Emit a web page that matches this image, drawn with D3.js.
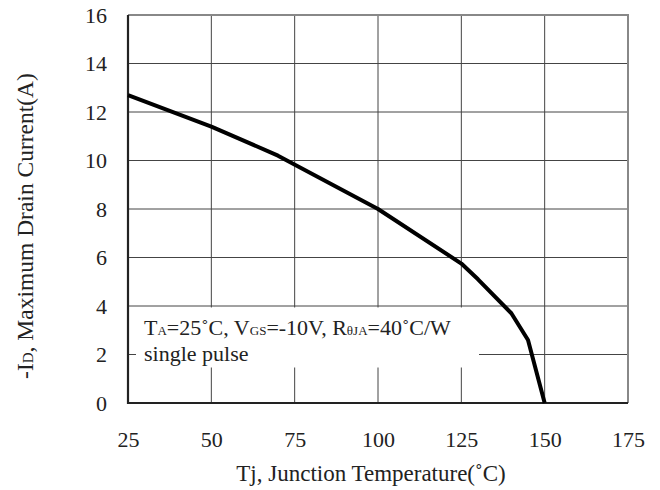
<!DOCTYPE html>
<html><head><meta charset="utf-8">
<script src="https://cdn.jsdelivr.net/npm/d3@7"></script>
<style>
body{margin:0;background:#fff;}
svg text{font-family:"Liberation Serif","Times New Roman",serif;fill:#222;}
</style></head>
<body><svg id="c" width="660" height="490"></svg>
<script>
const tempC = [25, 50, 70, 100, 125, 130, 140, 145, 150];
const drainCurrent = [12.7, 11.4, 10.2, 8.0, 5.75, 5.1, 3.7, 2.6, 0];
const xTicks = [25, 50, 75, 100, 125, 150, 175];
const yTicks = [0, 2, 4, 6, 8, 10, 12, 14, 16];

const svg = d3.select("#c");
const L = 128, R = 628, T = 15, B = 403;
const x = d3.scaleLinear().domain([25, 175]).range([L, R]);
const y = d3.scaleLinear().domain([0, 16]).range([B, T]);
const FS = 22;

// gridlines
const g = svg.append("g");
g.selectAll("line.v").data(xTicks.slice(1, -1)).enter().append("line")
  .attr("x1", d => x(d)).attr("x2", d => x(d)).attr("y1", T).attr("y2", B)
  .attr("stroke", "#444").attr("stroke-width", 1);
g.selectAll("line.h").data(yTicks.slice(1, -1)).enter().append("line")
  .attr("x1", L).attr("x2", R).attr("y1", d => y(d)).attr("y2", d => y(d))
  .attr("stroke", "#444").attr("stroke-width", 1);

// top & right border
svg.append("path").attr("d", `M${L},${T}H${R}V${B}`).attr("fill", "none")
  .attr("stroke", "#888").attr("stroke-width", 2);

// annotation background box
svg.append("rect").attr("x", L + 1).attr("y", y(4) + 1.5).attr("width", 350).attr("height", 60).attr("fill", "#fff");
// small inward tick at y=2
svg.append("line").attr("x1", L).attr("x2", L + 8).attr("y1", y(2)).attr("y2", y(2)).attr("stroke", "#444");

// axes
const xAxis = d3.axisBottom(x).tickValues(xTicks).tickSize(0).tickPadding(28).tickFormat(d3.format("d"));
const yAxis = d3.axisLeft(y).tickValues(yTicks).tickSize(0).tickPadding(21).tickFormat(d3.format("d"));
const gx = svg.append("g").attr("transform", `translate(0,${B})`).call(xAxis);
const gy = svg.append("g").attr("transform", `translate(${L},0)`).call(yAxis);
[gx, gy].forEach(a => {
  a.select(".domain").remove();
  a.selectAll("text").attr("font-size", FS).attr("font-family", null).style("fill", "#222");
});
svg.append("path").attr("d", `M${L},${T}V${B}H${R}`).attr("fill", "none")
  .attr("stroke", "#222").attr("stroke-width", 2.2);

// curve
svg.append("path").datum(tempC.map((t, i) => [t, drainCurrent[i]]))
  .attr("d", d3.line().x(d => x(d[0])).y(d => y(d[1])))
  .attr("fill", "none").attr("stroke", "#000").attr("stroke-width", 4).attr("stroke-linejoin", "round");

// annotation
const a1 = svg.append("text").attr("x", 144).attr("y", 335).attr("font-size", FS);
a1.append("tspan").text("T");
a1.append("tspan").attr("font-size", 13).text("A");
a1.append("tspan").text("=25˚C, V");
a1.append("tspan").attr("font-size", 13).text("GS");
a1.append("tspan").text("=-10V, R");
a1.append("tspan").attr("font-size", 13).text("θJA");
a1.append("tspan").text("=40˚C/W");
svg.append("text").attr("x", 144).attr("y", 361).attr("font-size", FS).text("single pulse");

// axis titles
svg.append("text").attr("x", 371).attr("y", 481).attr("text-anchor", "middle").attr("font-size", 23)
  .text("Tj, Junction Temperature(˚C)");
const yt = svg.append("text").attr("transform", "translate(33,226) rotate(-90)").attr("text-anchor", "middle").attr("font-size", 23.5);
yt.append("tspan").text("-I");
yt.append("tspan").attr("font-size", 15).text("D");
yt.append("tspan").text(", Maximum Drain Current(A)");
</script></body></html>
